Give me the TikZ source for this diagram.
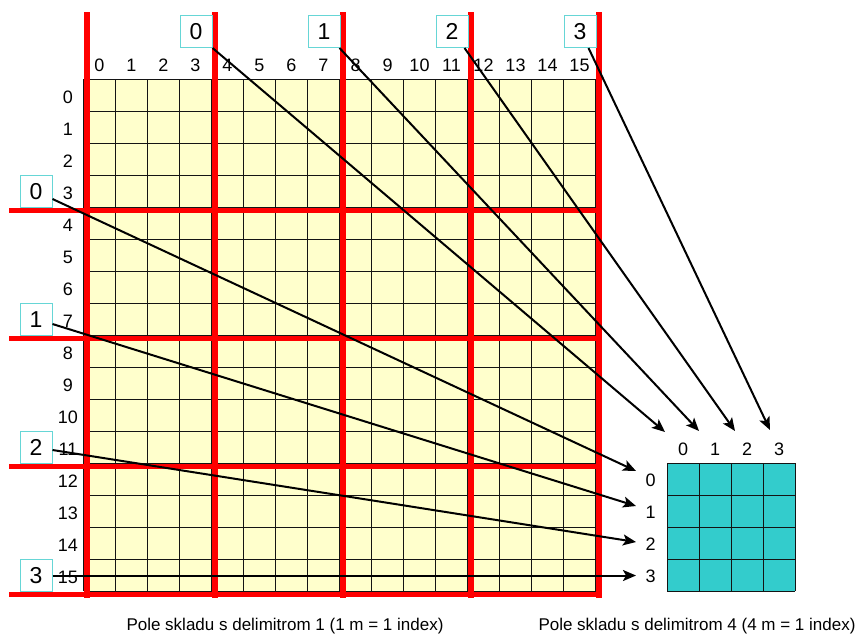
\documentclass[tikz,border=0pt]{standalone}
\usepackage{fontspec}
\setmainfont{Liberation Sans}
\usetikzlibrary{arrows.meta,calc}
\definecolor{gridyellow}{RGB}{255,255,204}
\definecolor{boxcyan}{RGB}{102,214,214}
\definecolor{tealfill}{RGB}{51,204,204}
\definecolor{gridline}{RGB}{20,20,20}
\begin{document}
\begin{tikzpicture}[x=1pt,y=-1pt,
  lbl/.style={font=\fontsize{18}{18}\selectfont, inner sep=0pt, anchor=center},
  idxbox/.style={draw=boxcyan, line width=1pt, fill=white, minimum width=32pt, minimum height=32pt, inner sep=0pt, font=\fontsize{23}{23}\selectfont},
  redline/.style={draw=red, line width=5.5pt},
  gridstroke/.style={draw=gridline, line width=1pt},
  arr/.style={draw=black, line width=2pt, -{Stealth[length=13pt,width=11pt,inset=3pt]}},
  caption/.style={font=\fontsize{17}{17}\selectfont, inner sep=0pt}]
\useasboundingbox (0,0) rectangle (864,637);
\fill[white] (0,0) rectangle (864,637);

% big grid
\fill[gridyellow] (83.5,79.3) rectangle (595.5,591.3);
\foreach \i in {0,...,16} {
  \draw[gridstroke] ({83.5+32*\i},79.3) -- ({83.5+32*\i},591.3);
  \draw[gridstroke] (83.5,{79.3+32*\i}) -- (595.5,{79.3+32*\i});
}
% red delimiter lines
\foreach \x in {87,215,343,471,599}
  \draw[redline] (\x,12) -- (\x,597.5);
\foreach \y in {210.7,338.7,466.7,594.7}
  \draw[redline] (9,\y) -- (601.5,\y);

% labels of the big grid
\foreach \i in {0,...,15} {
  \node[lbl] (cl\i) at ({99.5+32*\i},65) {\i};
  \node[lbl] (rl\i) at (68,{97+32*\i}) {\i};
}

% index boxes
\foreach \i in {0,...,3} {
  \node[idxbox] (tb\i) at ({196+128*\i},31.5) {\i};
  \node[idxbox] (lb\i) at (36,{191.5+128*\i}) {\i};
}

% small grid
\fill[tealfill] (667,463) rectangle (795,591);
\foreach \i in {0,...,4} {
  \draw[gridstroke] ({667+32*\i},463) -- ({667+32*\i},591);
  \draw[gridstroke] (667,{463+32*\i}) -- (795,{463+32*\i});
}
\foreach \i in {0,...,3} {
  \node[lbl] (sc\i) at ({683+32*\i},449) {\i};
  \node[lbl] (sr\i) at (650.5,{480+32*\i}) {\i};
}

% arrow targets
\coordinate (tt0) at (665,432);
\coordinate (tt1) at (699,431);
\coordinate (tt2) at (735,431);
\coordinate (tt3) at (770,430);
\coordinate (lt0) at (636,471);
\coordinate (lt1) at (636,506);
\coordinate (lt2) at (636,542);
\coordinate (lt3) at (636,575.5);

% arrows from column blocks
\draw[arr] (tb0.south east) -- (tt0);
\draw[arr] ($(tb1.south east)+(-1,0)$) -- (tt1);
\draw[arr] ($(tb2.south east)+(-4,0)$) -- (tt2);
\draw[arr] ($(tb3.south east)+(-8,0)$) -- (tt3);
% arrows from row blocks
\draw[arr] ($(lb0.east)+(0,7.5)$) -- (lt0);
\draw[arr] ($(lb1.east)+(0,4.5)$) -- (lt1);
\draw[arr] ($(lb2.east)+(0,2.5)$) -- (lt2);
\draw[arr] (lb3.east) -- (lt3);

% captions
\node[caption] (cap1) at (285,626) {Pole skladu s delimitrom 1 (1 m = 1 index)};
\node[caption] (cap2) at (697,626) {Pole skladu s delimitrom 4 (4 m = 1 index)};
\end{tikzpicture}
\end{document}
